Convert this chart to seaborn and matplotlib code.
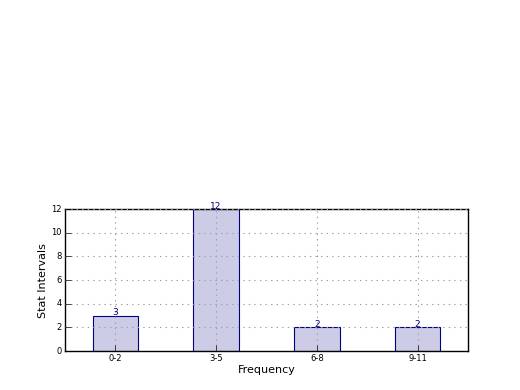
import pandas as pd
import numpy as np
import matplotlib
matplotlib.use('Agg')
from matplotlib import pyplot as plt
import seaborn as sns

# data
intervals = ['0-2', '3-5', '6-8', '9-11']
counts = [3, 12, 2, 2]

df = pd.DataFrame({'interval': intervals, 'count': counts})

plt.style.use('classic')
plt.rcParams['font.family'] = ['DejaVu Sans']

fig = plt.figure(figsize=(5.2, 3.9), dpi=100)
ax = fig.add_subplot(2, 1, 2)

sns.barplot(x='interval', y='count', data=df, order=intervals, ax=ax,
            width=0.45, color=(0.8, 0.8, 0.9), edgecolor='navy',
            linewidth=0.8, saturation=1)

# value labels on top of the bars
for i, c in enumerate(counts):
    ax.text(i, c - 0.15, str(c), ha='center', va='bottom', color='navy', fontsize=6.5)

ax.set_xlim(-0.5, 3.5)
ax.set_ylim(0, 12)
ax.set_yticks(range(0, 13, 2))
ax.grid(True, linestyle=':', color='#a0a0a0', linewidth=0.8)
ax.set_axisbelow(False)
ax.tick_params(labelsize=6, top=False, right=False, pad=2.5)
plt.xlabel('Frequency', fontsize=8, labelpad=1) #Name of xlabel
plt.ylabel('Stat Intervals', fontsize=8, labelpad=2) #Name of ylabel

plt.savefig('out.png', dpi=100, facecolor='white')
